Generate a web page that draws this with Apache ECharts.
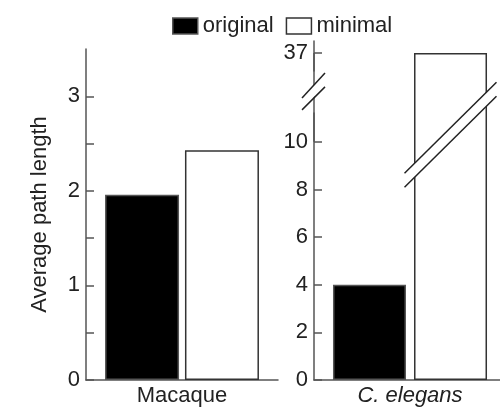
<!DOCTYPE html>
<html>
<head>
<meta charset="utf-8">
<script src="https://cdn.jsdelivr.net/npm/echarts@6/dist/echarts.min.js"></script>
<style>
  html, body { margin: 0; padding: 0; background: #fff; }
  #chart { width: 500px; height: 410px; }
</style>
</head>
<body>
<div id="chart"></div>
<script>
// data
var seriesNames = ['original', 'minimal'];
var macaqueCats = ['Macaque'];
var elegansCats = ['C. elegans'];
var macaqueValues = [1.96, 2.43];
var elegansValues = [4, 37];
var macaqueTicks = [0, 0.5, 1, 1.5, 2, 2.5, 3];
var macaqueLabels = [0, 1, 2, 3];
var elegansLabels = [0, 2, 4, 6, 8, 10, 37];
var elegansBreak = { start: 11.2, end: 36.26 };

var font = "'Liberation Sans', Arial, sans-serif";
var axisColor = '#555';
var textColor = '#222';

var styles = [
  { color: '#000', borderColor: '#555', borderWidth: 1.5 },
  { color: '#fff', borderColor: '#333', borderWidth: 1.5 }
];

var chart = echarts.init(document.getElementById('chart'));

function yAxisBase() {
  return {
    type: 'value',
    axisLine: { show: true, lineStyle: { color: axisColor, width: 1.5 } },
    axisTick: { show: true, inside: true, length: 8, lineStyle: { color: axisColor, width: 1.5 } },
    axisLabel: { fontSize: 22, color: textColor, fontFamily: font, margin: 6 },
    splitLine: { show: false }
  };
}

function xAxisBase(cats, italic, idx) {
  return {
    type: 'category',
    gridIndex: idx,
    data: cats,
    axisLine: { show: true, lineStyle: { color: axisColor, width: 1.5 } },
    axisTick: { show: false },
    axisLabel: { fontSize: 22, color: textColor, fontFamily: font, margin: 5,
                 fontStyle: italic ? 'italic' : 'normal' }
  };
}

var yLeft = yAxisBase();
yLeft.gridIndex = 0;
yLeft.min = 0;
yLeft.max = 3.5;
yLeft.axisTick.customValues = macaqueTicks;
yLeft.axisLabel.customValues = macaqueLabels;
yLeft.name = 'Average path length';
yLeft.nameLocation = 'middle';
yLeft.nameGap = 35;
yLeft.nameTextStyle = { fontSize: 22, color: textColor, fontFamily: font };

var yRight = yAxisBase();
yRight.gridIndex = 1;
yRight.min = 0;
yRight.max = 37.5;
yRight.breaks = [{ start: elegansBreak.start, end: elegansBreak.end, gap: '12.6%' }];
yRight.breakArea = { show: false };
yRight.axisTick.customValues = elegansLabels;
yRight.axisLabel.customValues = elegansLabels;

var series = [];
seriesNames.forEach(function (name, i) {
  series.push({
    name: name, type: 'bar', xAxisIndex: 0, yAxisIndex: 0,
    data: [macaqueValues[i]], barWidth: 74, barGap: '8%',
    itemStyle: styles[i], emphasis: { disabled: true }
  });
});
seriesNames.forEach(function (name, i) {
  series.push({
    name: name, type: 'bar', xAxisIndex: 1, yAxisIndex: 1,
    data: [elegansValues[i]], barWidth: 73, barGap: '11%',
    itemStyle: styles[i], emphasis: { disabled: true }
  });
});

var option = {
  animation: false,
  textStyle: { fontFamily: font },
  legend: {
    left: 172, top: 15, padding: 0,
    itemWidth: 25, itemHeight: 16, itemGap: 12,
    textStyle: { fontSize: 22, color: textColor, fontFamily: font },
    data: seriesNames.map(function (n, i) {
      return { name: n, icon: 'rect', itemStyle: styles[i] };
    })
  },
  grid: [
    { left: 86, top: 49, width: 192, bottom: 30, outerBoundsMode: 'none' },
    { left: 314, top: 41, width: 192, bottom: 30, outerBoundsMode: 'none' }
  ],
  xAxis: [xAxisBase(macaqueCats, false, 0), xAxisBase(elegansCats, true, 1)],
  yAxis: [yLeft, yRight],
  series: series
};

chart.setOption(option);

// break marks drawn on top of the axis and of the tall bar
var axisX = 314;
var yA = chart.convertToPixel({ yAxisIndex: 1 }, elegansBreak.start);
var yB = chart.convertToPixel({ yAxisIndex: 1 }, elegansBreak.end);
var axisY = (yA + yB) / 2;
var y10 = chart.convertToPixel({ yAxisIndex: 1 }, 10);
var y37 = chart.convertToPixel({ yAxisIndex: 1 }, 37);
var catX = chart.convertToPixel({ xAxisIndex: 1 }, elegansCats[0]);
var barX = catX + 40.5;
var barY = chart.convertToPixel({ yAxisIndex: 1 }, 10.3);

function pts(cx, cy, arr) {
  return arr.map(function (p) { return [cx + p[0], cy + p[1]]; });
}
var lineStyle = { stroke: '#222', lineWidth: 1.5, fill: null };

chart.setOption({
  graphic: [
    // fill the axis line across the break gap, then cut it between the slashes
    { type: 'line', z: 99, shape: { x1: axisX, y1: y37, x2: axisX, y2: y10 },
      style: { stroke: axisColor, lineWidth: 1.5 } },
    { type: 'polygon', z: 100, shape: { points: pts(axisX, axisY, [[-4, -2.7], [4, -11.4], [4, 0.6], [-4, 9.3]]) },
      style: { fill: '#fff' } },
    { type: 'polyline', z: 101, shape: { points: pts(axisX, axisY, [[-12, 6], [11, -19]]) }, style: lineStyle },
    { type: 'polyline', z: 101, shape: { points: pts(axisX, axisY, [[-12, 18], [11, -5]]) }, style: lineStyle },
    { type: 'polygon', z: 100, shape: { points: pts(barX, barY, [[-46, 38.5], [46, -52.5], [46, -38.5], [-46, 52.5]]) },
      style: { fill: '#fff' } },
    { type: 'polyline', z: 101, shape: { points: pts(barX, barY, [[-46, 38.5], [46, -52.5]]) }, style: lineStyle },
    { type: 'polyline', z: 101, shape: { points: pts(barX, barY, [[-46, 52.5], [46, -38.5]]) }, style: lineStyle }
  ]
});
</script>
</body>
</html>
